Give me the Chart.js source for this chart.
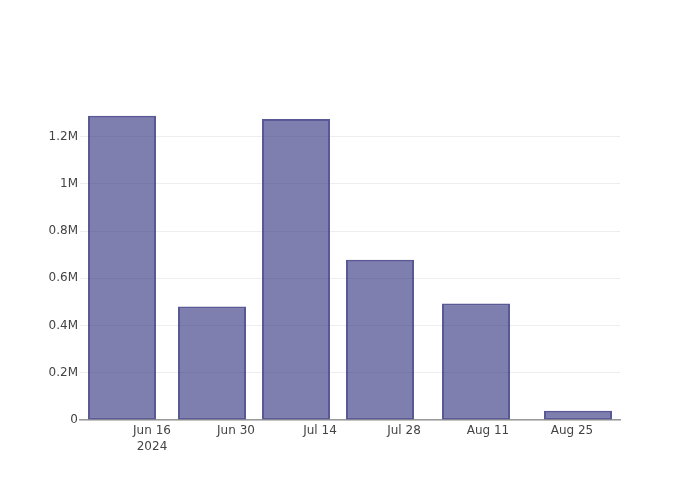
<!DOCTYPE html>
<html>
<head>
<meta charset="utf-8">
<script src="https://cdn.jsdelivr.net/npm/chart.js@4.4.1/dist/chart.umd.min.js"></script>
<style>
  html, body { margin: 0; padding: 0; background: #fff; }
  #wrap { width: 700px; height: 500px; }
</style>
</head>
<body>
<div id="wrap"><canvas id="chart" width="700" height="500"></canvas></div>
<script>
// Fechas de cada barra y sus valores
const barDates = ["2024-06-11", "2024-06-26", "2024-07-10", "2024-07-24", "2024-08-09", "2024-08-26"];
const barValues = [1288000, 481000, 1275000, 679000, 493000, 39000];

// Marcas del eje X y del eje Y
const xTickDates = ["2024-06-16", "2024-06-30", "2024-07-14", "2024-07-28", "2024-08-11", "2024-08-25"];
const yTickValues = [0, 200000, 400000, 600000, 800000, 1000000, 1200000];
const xRange = ["2024-06-04", "2024-09-02"];
const yMax = 1355000;

const DAY = 86400000;
const toDay = s => Date.parse(s + "T00:00:00Z") / DAY;
const months = ["Jan", "Feb", "Mar", "Apr", "May", "Jun", "Jul", "Aug", "Sep", "Oct", "Nov", "Dec"];

const formatDay = (v, first) => {
  const d = new Date(v * DAY);
  const label = months[d.getUTCMonth()] + " " + d.getUTCDate();
  return first ? [label, String(d.getUTCFullYear())] : label;
};

const formatM = v => (v === 0 ? "0" : (v / 1e6).toString() + "M");

const fontFamily = "'DejaVu Sans', Verdana, sans-serif";

const ctx = document.getElementById("chart").getContext("2d");

new Chart(ctx, {
  type: "bar",
  data: {
    datasets: [
      {
        data: barDates.map((d, i) => ({ x: toDay(d), y: barValues[i] })),
        backgroundColor: "rgba(42, 42, 122, 0.6)",
        borderColor: "rgba(60, 60, 130, 0.85)",
        borderWidth: 2,
        borderSkipped: false,
        barPercentage: 0.81,
        categoryPercentage: 1,
      },
    ],
  },
  options: {
    responsive: false,
    animation: false,
    events: [],
    layout: { padding: { left: 0, right: 80, top: 100, bottom: 0 } },
    plugins: { legend: { display: false }, tooltip: { enabled: false } },
    scales: {
      x: {
        type: "linear",
        offset: false,
        min: toDay(xRange[0]),
        max: toDay(xRange[1]),
        afterFit: s => { s.height = 80; },
        afterBuildTicks: s => { s.ticks = xTickDates.map(d => ({ value: toDay(d) })); },
        grid: { display: false, drawTicks: false, offset: false },
        border: { display: true, color: "#9a9a9a", width: 1.5 },
        ticks: {
          padding: 3,
          autoSkip: false,
          maxRotation: 0,
          color: "#444",
          font: { family: fontFamily, size: 12, lineHeight: 1.35 },
          callback: (v, i) => formatDay(v, i === 0),
        },
      },
      y: {
        min: 0,
        max: yMax,
        afterFit: s => { s.width = 80; },
        afterBuildTicks: s => { s.ticks = yTickValues.map(v => ({ value: v })); },
        grid: { color: "#eeeeee", lineWidth: 1, drawTicks: false },
        border: { display: false },
        ticks: {
          padding: 2,
          color: "#444",
          font: { family: fontFamily, size: 12 },
          callback: v => formatM(v),
        },
      },
    },
  },
});
</script>
</body>
</html>
